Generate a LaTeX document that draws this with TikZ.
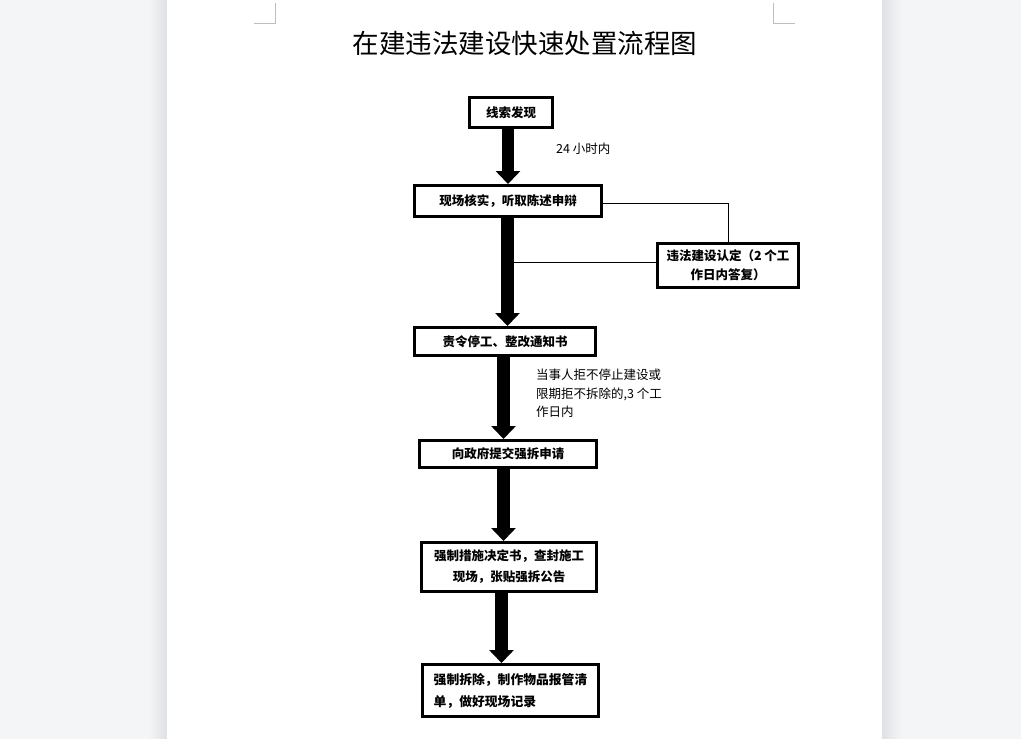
\documentclass[tikz,border=0pt]{standalone}
\usepackage{fontspec}
\newfontfamily\cjk{Noto Sans CJK SC}
\usetikzlibrary{arrows.meta}
\definecolor{bgc}{RGB}{244,245,247}
\definecolor{shadec}{RGB}{224,225,228}
\definecolor{markc}{RGB}{190,190,190}
\begin{document}
\begin{tikzpicture}[x=1pt,y=-1pt,
  box/.style={draw,line width=3pt,fill=white,inner sep=2pt,font=\cjk\bfseries\fontsize{12.5}{19}\selectfont,align=center},
  fat/.style={line width=12.5pt,-{Triangle[width=24pt,length=13pt]}},
  thinln/.style={line width=0.9pt},
  lbl/.style={font=\cjk\fontsize{12.5}{18.5}\selectfont,align=left,inner sep=0pt,anchor=north west}]
\useasboundingbox (0,0) rectangle (1021,739);
\fill[bgc] (0,0) rectangle (1021,739);
\shade[left color=bgc,right color=shadec] (148,0) rectangle (167,739);
\shade[left color=shadec,right color=bgc] (882,0) rectangle (902,739);
\fill[white] (167,0) rectangle (882,739);
% corner marks
\draw[markc,line width=1pt] (275,3) -- (275,23) -- (254,23);
\draw[markc,line width=1pt] (773,3) -- (773,23) -- (795,23);
% title
\node[font=\cjk\fontsize{26.5}{30}\selectfont,inner sep=0pt] (title) at (525,43) {在建违法建设快速处置流程图};
% arrow axes
\coordinate (ax1) at (508,0);
\coordinate (ax2) at (507.5,0);
\coordinate (ax3) at (503.5,0);
\coordinate (ax4) at (503.5,0);
\coordinate (ax5) at (501.5,0);
% boxes
\node[box,minimum width=83pt,minimum height=30pt] (b1) at (511,112.5) {线索发现};
\node[box,minimum width=187pt,minimum height=31pt] (b2) at (508,201) {现场核实，听取陈述申辩};
\node[box,minimum width=141pt,minimum height=44pt] (b3) at (728,265.5) {违法建设认定（2 个工\\作日内答复）};
\node[box,minimum width=181pt,minimum height=28pt] (b4) at (505,341.5) {责令停工、整改通知书};
\node[box,minimum width=177pt,minimum height=27pt] (b5) at (508,454) {向政府提交强拆申请};
\node[box,minimum width=175pt,minimum height=49pt,font=\cjk\bfseries\fontsize{12.5}{21}\selectfont] (b6) at (509,567) {强制措施决定书，查封施工\\现场，张贴强拆公告};
\node[box,minimum width=176pt,minimum height=52pt,align=left,font=\cjk\bfseries\fontsize{12.8}{22}\selectfont] (b7) at (510.5,690.5) {强制拆除，制作物品报管清\\单，做好现场记录};
% arrows
\draw[fat] (b1.south -| ax1) -- (b2.north -| ax1);
\draw[fat] (b2.south -| ax2) -- (b4.north -| ax2);
\draw[fat] (b4.south -| ax3) -- (b5.north -| ax3);
\draw[fat] (b5.south -| ax4) -- (b6.north -| ax4);
\draw[fat] (b6.south -| ax5) -- (b7.north -| ax5);
% thin connectors
\coordinate (c1) at (0,203);
\coordinate (c2) at (514,262);
\draw[thinln] (b2.east |- c1) -| (b3.north);
\draw[thinln] (b3.west |- c2) -- (c2);
% labels
\node[lbl] (l1) at (556,143) {24 小时内};
\node[lbl] (l2) at (536,369) {当事人拒不停止建设或\\限期拒不拆除的,3 个工\\作日内};
\end{tikzpicture}
\end{document}
